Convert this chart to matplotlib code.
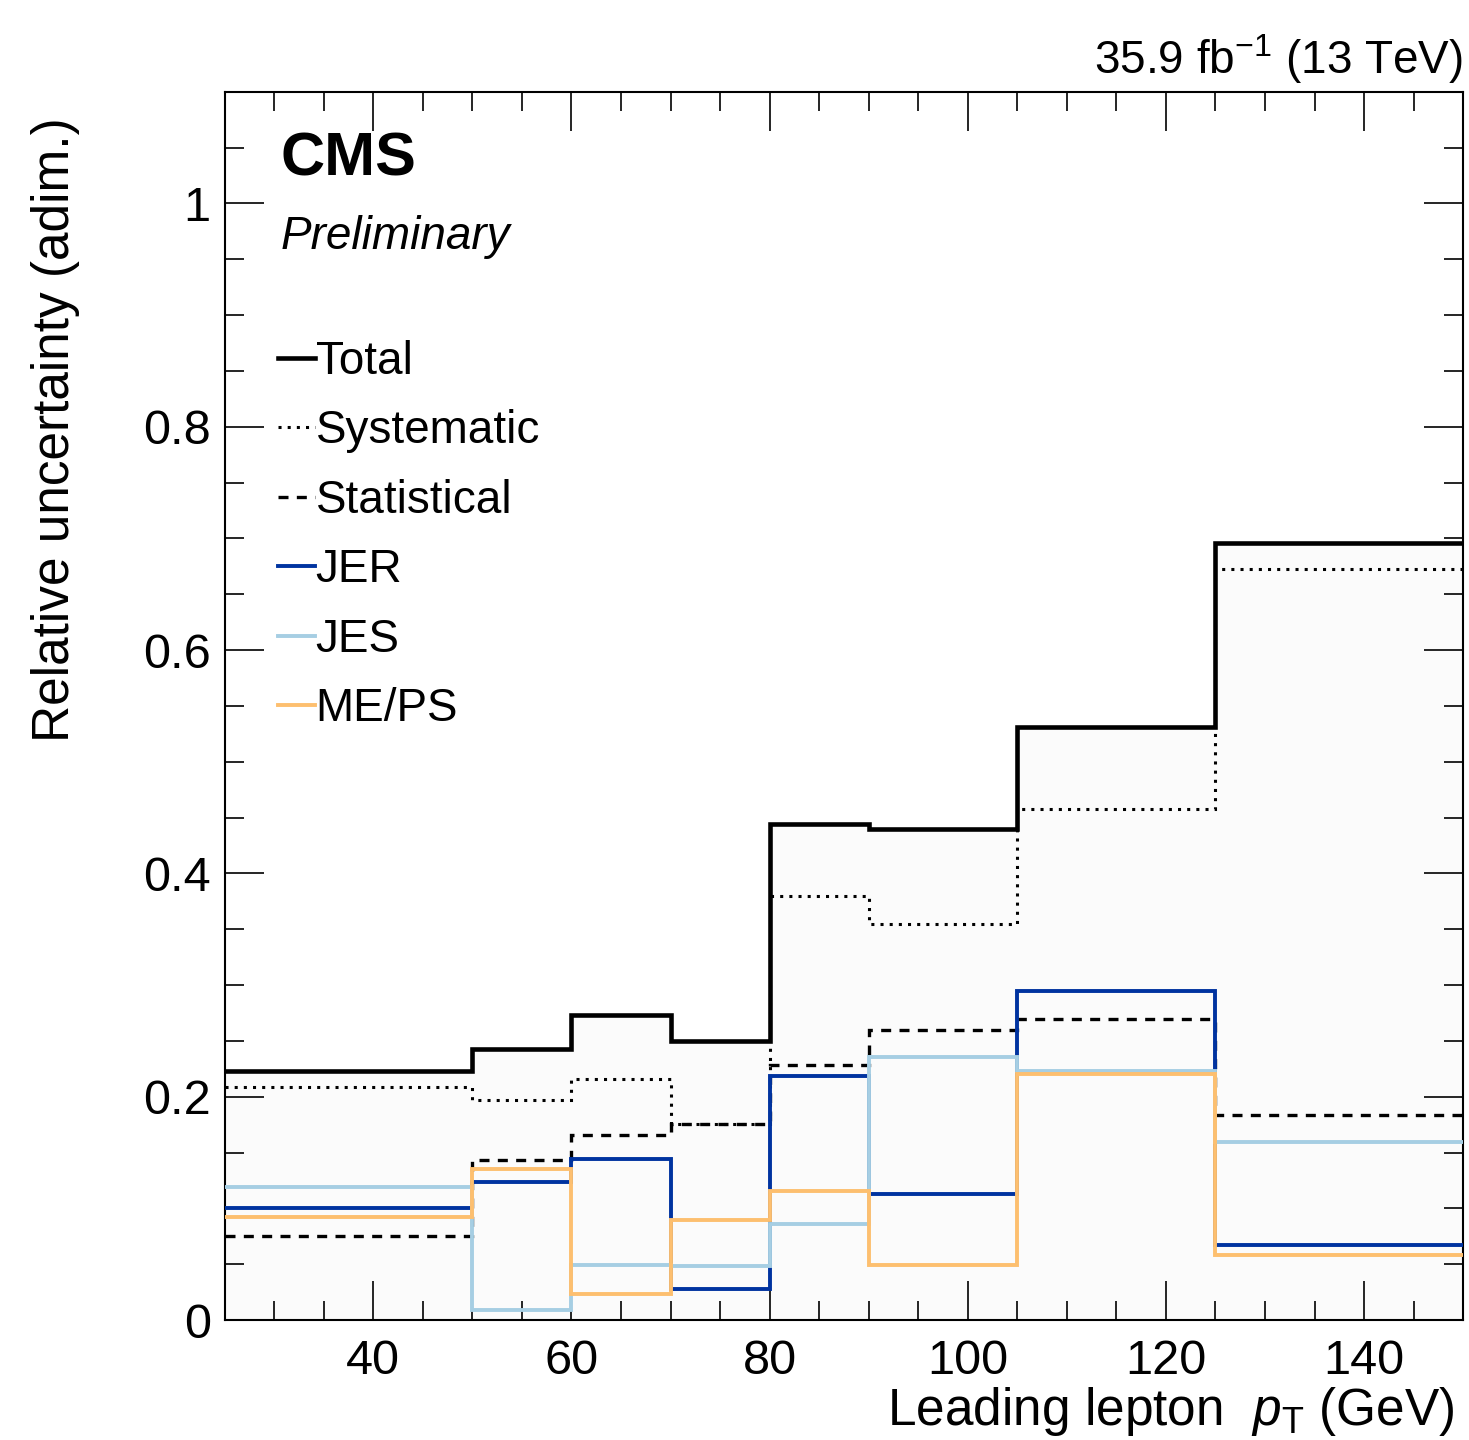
import matplotlib
matplotlib.use("Agg")
import matplotlib.pyplot as plt
from matplotlib.ticker import MultipleLocator
from matplotlib.lines import Line2D

plt.rcParams['font.family'] = ['Liberation Sans', 'DejaVu Sans']
plt.rcParams['mathtext.fontset'] = 'custom'
plt.rcParams['mathtext.it'] = 'Liberation Sans:italic'
plt.rcParams['mathtext.rm'] = 'Liberation Sans'

# --- DATA ---
edges = [25, 50, 60, 70, 80, 90, 105, 125, 150]
total = [0.223, 0.243, 0.273, 0.250, 0.444, 0.440, 0.531, 0.696]
systematic = [0.209, 0.197, 0.216, 0.176, 0.380, 0.355, 0.458, 0.673]
statistical = [0.075, 0.143, 0.166, 0.176, 0.228, 0.260, 0.270, 0.184]
jer = [0.100, 0.124, 0.144, 0.028, 0.219, 0.113, 0.295, 0.067]
jes = [0.119, 0.009, 0.049, 0.048, 0.086, 0.236, 0.223, 0.159]
meps = [0.092, 0.135, 0.023, 0.090, 0.116, 0.049, 0.220, 0.058]

fig = plt.figure(figsize=(14.69, 14.40), dpi=100)
ax = fig.add_axes([0.153, 0.0833, 0.843, 0.853])

# light fill under total, as in the ROOT canvas
ax.stairs(total, edges, fill=True, color='#fbfbfb', baseline=0, zorder=1)

styles = {
    'Systematic': dict(color='black', lw=2.2, linestyle=(0, (1, 2))),
    'Statistical': dict(color='black', lw=2.4, linestyle=(0, (3, 2.5))),
    'JER': dict(color='#0033a0', lw=2.8, linestyle='-'),
    'JES': dict(color='#a6cee3', lw=2.8, linestyle='-'),
    'ME/PS': dict(color='#fdbf6f', lw=2.8, linestyle='-'),
    'Total': dict(color='black', lw=3.3, linestyle='-'),
}
series = {'Systematic': systematic, 'Statistical': statistical, 'JER': jer,
          'JES': jes, 'ME/PS': meps, 'Total': total}
for z, (name, vals) in enumerate(series.items()):
    ax.stairs(vals, edges, baseline=None, zorder=3 + z, **styles[name])

ax.set_xlim(25, 150)
ax.set_ylim(0, 1.1)

ax.xaxis.set_major_locator(MultipleLocator(20))
ax.xaxis.set_minor_locator(MultipleLocator(5))
ax.yaxis.set_major_locator(MultipleLocator(0.2))
ax.yaxis.set_minor_locator(MultipleLocator(0.05))
ax.tick_params(which='both', direction='in', top=True, right=True, width=1.2)
ax.tick_params(which='major', length=28, labelsize=35)
ax.tick_params(axis='x', which='major', pad=14)
ax.tick_params(axis='y', which='major', pad=10)
ax.tick_params(which='minor', length=14)
ax.yaxis.set_major_formatter(plt.FuncFormatter(lambda v, p: f"{v:g}"))
for s in ax.spines.values():
    s.set_linewidth(1.5)

ax.set_xlabel(r'Leading lepton  $p_{\mathrm{T}}$ (GeV)', fontsize=37, ha='right', va='top')
ax.xaxis.set_label_coords(0.9935, -0.053)
ax.set_ylabel('Relative uncertainty (adim.)', fontsize=37, ha='right')
ax.yaxis.set_label_coords(-0.117, 0.979)

ax.text(0.045, 0.968, 'CMS', transform=ax.transAxes, fontsize=44,
        fontweight='bold', va='top', ha='left')
ax.text(0.045, 0.900, 'Preliminary', transform=ax.transAxes, fontsize=33,
        style='italic', va='top', ha='left')
ax.text(1.0, 1.005, r'35.9 fb$^{-1}$ (13 TeV)', transform=ax.transAxes,
        fontsize=33, ha='right', va='bottom')

order = ['Total', 'Systematic', 'Statistical', 'JER', 'JES', 'ME/PS']
leg_handles = [Line2D([], [], color=styles[n]['color'], lw=styles[n]['lw'],
                      linestyle=styles[n]['linestyle']) for n in order]
ax.legend(leg_handles, order, loc='upper left', bbox_to_anchor=(0.043, 0.798),
          frameon=False, fontsize=33, handlelength=0.8, handletextpad=0.02,
          labelspacing=0.555, borderaxespad=0, borderpad=0)

fig.savefig('out.png', dpi=100)
